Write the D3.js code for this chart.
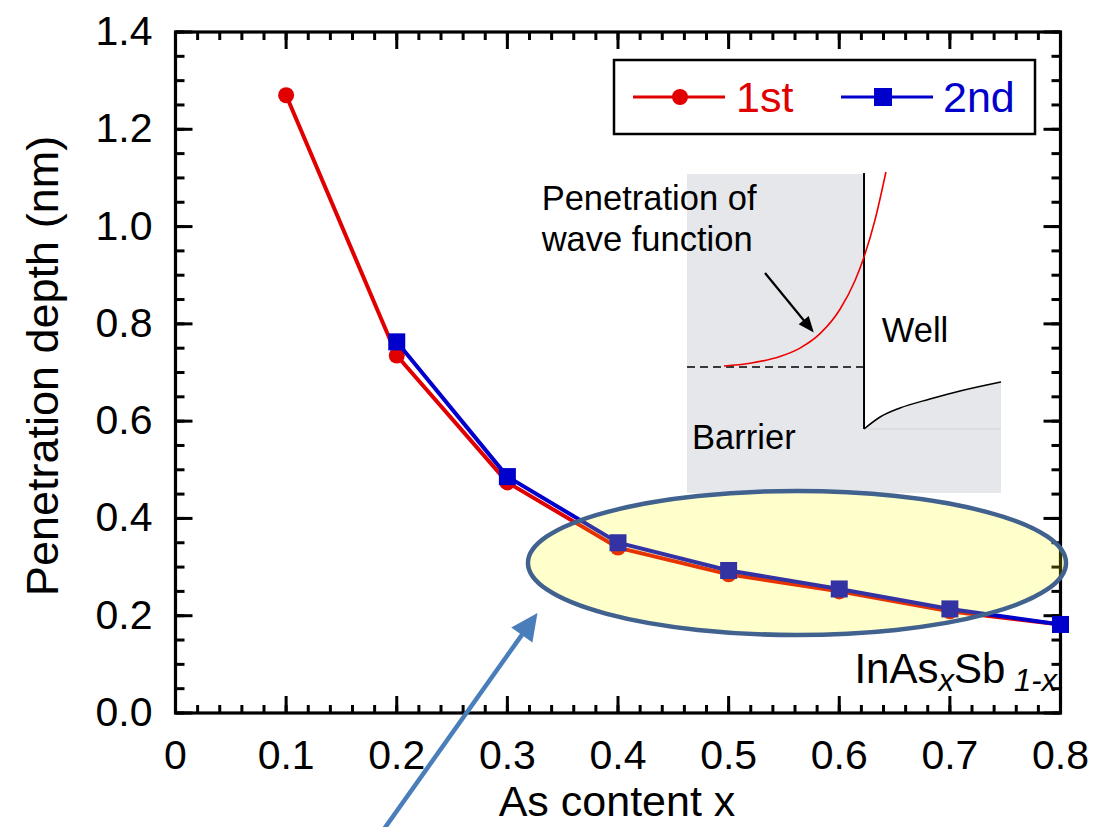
<!DOCTYPE html>
<html>
<head>
<meta charset="utf-8">
<script src="https://cdn.jsdelivr.net/npm/d3@7"></script>
<style>
  html, body { margin: 0; padding: 0; background: #fff; }
  svg { display: block; font-family: "Liberation Sans", Arial, sans-serif; }
</style>
</head>
<body>
<svg id="chart" width="1094" height="827"></svg>
<script>
// ---------------- data ----------------
const asContent1st = [0.1, 0.2, 0.3, 0.4, 0.5, 0.6, 0.7, 0.8];
const depth1st     = [1.27, 0.735, 0.474, 0.340, 0.285, 0.250, 0.209, 0.182];
const asContent2nd = [0.2, 0.3, 0.4, 0.5, 0.6, 0.7, 0.8];
const depth2nd     = [0.763, 0.486, 0.350, 0.293, 0.255, 0.214, 0.182];

const xTickValues = [0, 0.1, 0.2, 0.3, 0.4, 0.5, 0.6, 0.7, 0.8];
const xTickLabels = ["0", "0.1", "0.2", "0.3", "0.4", "0.5", "0.6", "0.7", "0.8"];
const yTickValues = [0, 0.2, 0.4, 0.6, 0.8, 1.0, 1.2, 1.4];
const yTickLabels = ["0.0", "0.2", "0.4", "0.6", "0.8", "1.0", "1.2", "1.4"];

const seriesNames = ["1st", "2nd"];
const xTitle = "As content x";
const yTitle = "Penetration depth (nm)";

// inset sketch (in data coordinates of the main chart)
const insetBox = { x0: 0.4624, x1: 0.7462, yTop: 1.108, yBottom: 0.4523 };
const insetWallX = 0.6224, insetWallTop = 1.110, insetWallBottom = 0.5839;
const insetLevelY = 0.7113;
const waveX = [0.4958, 0.5193, 0.5464, 0.5645, 0.5826, 0.6007, 0.6143, 0.6224, 0.6323, 0.6422];
const waveY = [0.7134, 0.7191, 0.7329, 0.7502, 0.7798, 0.8301, 0.8892, 0.9375, 1.0135, 1.1122];
const wellX = [0.6224, 0.6369, 0.6549, 0.6820, 0.7092, 0.7462];
const wellY = [0.5839, 0.6085, 0.6270, 0.6455, 0.6620, 0.6805];

// ---------------- setup ----------------
const svg = d3.select("#chart");
const red = "#e00000", blue = "#0000cc";
const x = d3.scaleLinear().domain([0, 0.8]).range([175.5, 1060.5]);
const y = d3.scaleLinear().domain([0, 1.4]).range([713, 32]);

const xMinor = d3.range(0, 41).map(i => +(i * 0.02).toFixed(2));
const yMinor = d3.range(0, 29).map(i => +(i * 0.05).toFixed(2));

// ---------------- inset ----------------
const inset = svg.append("g");
inset.append("rect")
  .attr("x", x(insetBox.x0)).attr("y", y(insetBox.yTop))
  .attr("width", x(insetBox.x1) - x(insetBox.x0))
  .attr("height", y(insetBox.yBottom) - y(insetBox.yTop))
  .attr("fill", "#e6e7eb");
const wellPts = wellX.map((d, i) => [x(d), y(wellY[i])]);
const wellArea = d3.area().x(d => d[0]).y0(y(insetBox.yTop)).y1(d => d[1]).curve(d3.curveMonotoneX);
inset.append("path").datum(wellPts).attr("d", wellArea).attr("fill", "#ffffff");
inset.append("line")
  .attr("x1", x(insetWallX)).attr("x2", x(insetBox.x1))
  .attr("y1", y(insetWallBottom)).attr("y2", y(insetWallBottom))
  .attr("stroke", "#d6d7da").attr("stroke-width", 1.2);
inset.append("path").datum(wellPts)
  .attr("d", d3.line().curve(d3.curveMonotoneX))
  .attr("fill", "none").attr("stroke", "#000").attr("stroke-width", 1.5);
inset.append("line")
  .attr("x1", x(insetWallX)).attr("x2", x(insetWallX))
  .attr("y1", y(insetWallTop)).attr("y2", y(insetWallBottom))
  .attr("stroke", "#000").attr("stroke-width", 2);
inset.append("line")
  .attr("x1", x(insetBox.x0)).attr("x2", x(insetWallX))
  .attr("y1", y(insetLevelY)).attr("y2", y(insetLevelY))
  .attr("stroke", "#000").attr("stroke-width", 1.6).attr("stroke-dasharray", "8,5");
inset.append("path").datum(waveX.map((d, i) => [x(d), y(waveY[i])]))
  .attr("d", d3.line().curve(d3.curveMonotoneX))
  .attr("fill", "none").attr("stroke", "#ee0000").attr("stroke-width", 1.6);

function arrow(g, p0, p1, color, width, headLen, headHalf) {
  const dx = p1[0] - p0[0], dy = p1[1] - p0[1];
  const L = Math.hypot(dx, dy), ux = dx / L, uy = dy / L;
  const bx = p1[0] - ux * headLen, by = p1[1] - uy * headLen;
  g.append("line").attr("x1", p0[0]).attr("y1", p0[1]).attr("x2", bx + ux * 2).attr("y2", by + uy * 2)
    .attr("stroke", color).attr("stroke-width", width);
  g.append("path")
    .attr("d", `M${p1[0]},${p1[1]}L${bx - uy * headHalf},${by + ux * headHalf}L${bx + uy * headHalf},${by - ux * headHalf}Z`)
    .attr("fill", color);
}
arrow(inset, [x(0.5329), y(0.9046)], [x(0.5770), y(0.7820)], "#000", 2.2, 16, 6.5);

const insetFont = 34.5;
inset.append("text").attr("x", x(0.3310)).attr("y", y(1.034)).attr("font-size", insetFont).text("Penetration of");
inset.append("text").attr("x", x(0.3310)).attr("y", y(0.950)).attr("font-size", insetFont).text("wave function");
inset.append("text").attr("x", x(0.6385)).attr("y", y(0.763)).attr("font-size", insetFont).text("Well");
inset.append("text").attr("x", x(0.4670)).attr("y", y(0.543)).attr("font-size", insetFont).text("Barrier");

// ---------------- axes / frame ----------------
const axes = svg.append("g").attr("stroke", "#000").attr("stroke-width", 3);
function tickLines(vals, len, orient) {
  vals.forEach(v => {
    if (orient === "bottom") axes.append("line").attr("x1", x(v)).attr("x2", x(v)).attr("y1", y(0)).attr("y2", y(0) - len);
    if (orient === "top") axes.append("line").attr("x1", x(v)).attr("x2", x(v)).attr("y1", y(1.4)).attr("y2", y(1.4) + len);
    if (orient === "left") axes.append("line").attr("y1", y(v)).attr("y2", y(v)).attr("x1", x(0)).attr("x2", x(0) + len);
    if (orient === "right") axes.append("line").attr("y1", y(v)).attr("y2", y(v)).attr("x1", x(0.8)).attr("x2", x(0.8) - len);
  });
}
tickLines(xMinor, 8, "bottom"); tickLines(xTickValues, 17, "bottom");
tickLines(xMinor, 8, "top"); tickLines(xTickValues, 17, "top");
tickLines(yMinor, 9, "left"); tickLines(yTickValues, 17, "left");
tickLines(yMinor, 9, "right"); tickLines(yTickValues, 17, "right");
axes.append("rect").attr("x", x(0)).attr("y", y(1.4)).attr("width", x(0.8) - x(0)).attr("height", y(0) - y(1.4))
  .attr("fill", "none").attr("stroke-width", 3.2);

svg.append("g").selectAll("text").data(xTickValues).join("text")
  .attr("x", d => x(d)).attr("y", y(0) + 56).attr("text-anchor", "middle").attr("font-size", 41)
  .text((d, i) => xTickLabels[i]);
svg.append("g").selectAll("text").data(yTickValues).join("text")
  .attr("x", x(0) - 23).attr("y", d => y(d) + 13).attr("text-anchor", "end").attr("font-size", 41)
  .text((d, i) => yTickLabels[i]);

svg.append("text").attr("x", 617).attr("y", 816).attr("text-anchor", "middle").attr("font-size", 43).text(xTitle);
svg.append("text").attr("transform", `translate(58,${366}) rotate(-90)`).attr("text-anchor", "middle")
  .attr("font-size", 45).text(yTitle);

// ---------------- data series ----------------
const line = d3.line().x(d => x(d[0])).y(d => y(d[1]));
const s1 = asContent1st.map((d, i) => [d, depth1st[i]]);
const s2 = asContent2nd.map((d, i) => [d, depth2nd[i]]);
svg.append("path").datum(s1).attr("d", line).attr("fill", "none").attr("stroke", red).attr("stroke-width", 4);
svg.append("g").selectAll("circle").data(s1).join("circle")
  .attr("cx", d => x(d[0])).attr("cy", d => y(d[1])).attr("r", 8).attr("fill", red);
svg.append("path").datum(s2).attr("d", line).attr("fill", "none").attr("stroke", blue).attr("stroke-width", 4);
const sq = 17;
svg.append("g").selectAll("rect").data(s2).join("rect")
  .attr("x", d => x(d[0]) - sq / 2).attr("y", d => y(d[1]) - sq / 2).attr("width", sq).attr("height", sq).attr("fill", blue);

// ---------------- ellipse highlight ----------------
svg.append("ellipse")
  .attr("cx", x(0.5618)).attr("cy", y(0.3084))
  .attr("rx", x(0.2432) - x(0)).attr("ry", y(0) - y(0.148))
  .attr("fill", "rgba(255,255,0,0.2)").attr("stroke", "#41628e").attr("stroke-width", 4.5);

// material label
const mat = svg.append("text").attr("x", 1057).attr("y", 683).attr("text-anchor", "end").attr("font-size", 42);
mat.append("tspan").text("InAs");
mat.append("tspan").attr("font-style", "italic").attr("font-size", 31).attr("dy", 8).text("x");
mat.append("tspan").attr("dy", -8).text("Sb");
mat.append("tspan").attr("font-style", "italic").attr("font-size", 31).attr("dy", 8).text("\u00a01-x");

// big blue arrow
arrow(svg.append("g"), [x(0.1740), y(-0.285)], [x(0.3272), y(0.2056)], "#4a7ebb", 4.5, 27, 13);

// ---------------- legend ----------------
const lg = svg.append("g");
lg.append("rect").attr("x", 614).attr("y", 60).attr("width", 421).attr("height", 74)
  .attr("fill", "#fff").attr("stroke", "#000").attr("stroke-width", 2.5);
lg.append("line").attr("x1", 633).attr("x2", 725).attr("y1", 97).attr("y2", 97).attr("stroke", red).attr("stroke-width", 3);
lg.append("circle").attr("cx", 680).attr("cy", 97).attr("r", 8).attr("fill", red);
lg.append("text").attr("x", 736).attr("y", 112).attr("font-size", 43).attr("fill", red).text(seriesNames[0]);
lg.append("line").attr("x1", 841).attr("x2", 933).attr("y1", 97).attr("y2", 97).attr("stroke", blue).attr("stroke-width", 3);
lg.append("rect").attr("x", 883 - 9).attr("y", 97 - 9).attr("width", 18).attr("height", 18).attr("fill", blue);
lg.append("text").attr("x", 943).attr("y", 112).attr("font-size", 43).attr("fill", blue).text(seriesNames[1]);
</script>
</body>
</html>
